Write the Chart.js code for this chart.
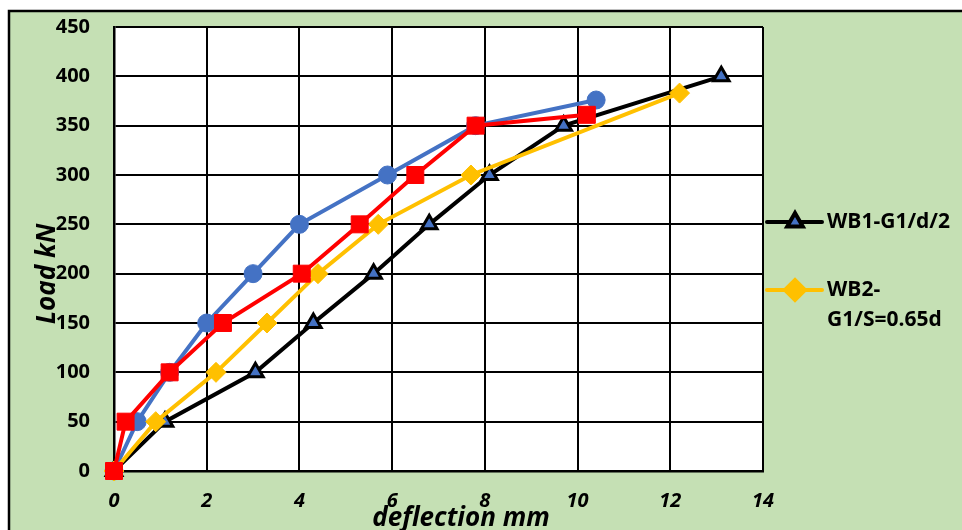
<!DOCTYPE html>
<html>
<head>
<meta charset="utf-8">
<script src="https://cdn.jsdelivr.net/npm/chart.js@4/dist/chart.umd.min.js"></script>
<style>
  html, body { margin: 0; padding: 0; background: #fff; }
  #wrap { width: 962px; height: 530px; }
</style>
</head>
<body>
<div id="wrap"><canvas id="chart"></canvas></div>
<script>
// deflection (mm) / load (kN)
const deflWB1 = [0, 1.1, 3.05, 4.3, 5.6, 6.8, 8.1, 9.7, 13.1];
const loadWB1 = [0, 50, 100, 150, 200, 250, 300, 350, 400];
const deflWB2 = [0, 0.9, 2.2, 3.3, 4.4, 5.7, 7.7, 12.2];
const loadWB2 = [0, 50, 100, 150, 200, 250, 300, 383];
const deflBlue = [0, 0.5, 1.2, 2.0, 3.0, 4.0, 5.9, 7.8, 10.4];
const loadBlue = [0, 50, 100, 150, 200, 250, 300, 350, 376];
const deflRed = [0, 0.25, 1.2, 2.35, 4.05, 5.3, 6.5, 7.8, 10.2];
const loadRed = [0, 50, 100, 150, 200, 250, 300, 350, 361];

const legendWB1 = ['WB1-G1/d/2'];
const legendWB2 = ['WB2-', 'G1/S=0.65d'];

const xTicks = [0, 2, 4, 6, 8, 10, 12, 14];
const yTicks = [0, 50, 100, 150, 200, 250, 300, 350, 400, 450];

const FONT = '"Open Sans", Lato, sans-serif';

function pts(xs, ys) {
  return xs.map((x, i) => ({ x: x, y: ys[i] }));
}

// green frame, white plot area
const frame = {
  id: 'frame',
  beforeDraw(chart) {
    const { ctx, chartArea: a } = chart;
    ctx.save();
    ctx.fillStyle = '#fff';
    ctx.fillRect(0, 0, chart.width, chart.height);
    ctx.fillStyle = '#C5E0B4';
    ctx.fillRect(9, 11, chart.width, chart.height);
    ctx.strokeStyle = '#000';
    ctx.lineWidth = 2.5;
    ctx.strokeRect(9, 11, chart.width + 10, chart.height + 10);
    ctx.fillStyle = '#fff';
    ctx.fillRect(a.left, a.top, a.right - a.left, a.bottom - a.top);
    ctx.restore();
  }
};

// axis titles + right-hand legend
const extras = {
  id: 'extras',
  afterDraw(chart) {
    const { ctx } = chart;
    ctx.save();
    ctx.fillStyle = '#000';
    ctx.font = 'italic bold 26px ' + FONT;
    ctx.textAlign = 'center';
    ctx.textBaseline = 'alphabetic';
    ctx.fillText('deflection mm', 461, 526);

    ctx.translate(55, 274);
    ctx.rotate(-Math.PI / 2);
    ctx.font = 'italic bold 26px ' + FONT;
    ctx.fillText('Load kN', 0, 0);
    ctx.restore();

    const byLabel = l => chart.data.datasets.find(d => d.label === l.join(''));
    const items = [
      { ds: byLabel(legendWB1), lines: legendWB1, y: 222 },
      { ds: byLabel(legendWB2), lines: legendWB2, y: 290 }
    ];
    items.forEach(it => {
      ctx.save();
      ctx.strokeStyle = it.ds.borderColor;
      ctx.lineWidth = 4;
      ctx.lineCap = 'round';
      ctx.beginPath();
      ctx.moveTo(767, it.y);
      ctx.lineTo(822, it.y);
      ctx.stroke();
      ctx.fillStyle = it.ds.pointBackgroundColor;
      ctx.strokeStyle = it.ds.pointBorderColor;
      Chart.helpers.drawPoint(ctx, {
        pointStyle: it.ds.pointStyle,
        radius: it.ds.pointRadius,
        rotation: 0,
        borderWidth: it.ds.pointBorderWidth
      }, 795, it.y);
      ctx.fillStyle = '#000';
      ctx.font = 'bold 21px ' + FONT;
      ctx.textAlign = 'left';
      ctx.textBaseline = 'middle';
      it.lines.forEach((t, i) => ctx.fillText(t, 827, it.y + i * 30));
      ctx.restore();
    });
  }
};

new Chart(document.getElementById('chart'), {
  type: 'scatter',
  data: {
    // first dataset is drawn on top
    datasets: [
      {
        label: 'WB-red',
        data: pts(deflRed, loadRed),
        showLine: true,
        clip: false,
        borderColor: '#FF0000',
        backgroundColor: '#FF0000',
        borderWidth: 4,
        pointStyle: 'rect',
        pointRadius: 12,
        pointBackgroundColor: '#FF0000',
        pointBorderColor: '#FF0000',
        pointBorderWidth: 1
      },
      {
        label: legendWB2.join(''),
        data: pts(deflWB2, loadWB2),
        showLine: true,
        clip: false,
        borderColor: '#FFC000',
        backgroundColor: '#FFC000',
        borderWidth: 4,
        pointStyle: 'rectRot',
        pointRadius: 10,
        pointBackgroundColor: '#FFC000',
        pointBorderColor: '#FFC000',
        pointBorderWidth: 1
      },
      {
        label: 'WB-blue',
        data: pts(deflBlue, loadBlue),
        showLine: true,
        clip: false,
        borderColor: '#4472C4',
        backgroundColor: '#4472C4',
        borderWidth: 4,
        pointStyle: 'circle',
        pointRadius: 9,
        pointBackgroundColor: '#4472C4',
        pointBorderColor: '#4472C4',
        pointBorderWidth: 1
      },
      {
        label: legendWB1.join(''),
        data: pts(deflWB1, loadWB1),
        showLine: true,
        clip: false,
        borderColor: '#000000',
        backgroundColor: '#000000',
        borderWidth: 4,
        pointStyle: 'triangle',
        pointRadius: 9,
        pointBackgroundColor: '#4472C4',
        pointBorderColor: '#000000',
        pointBorderWidth: 3
      }
    ]
  },
  options: {
    responsive: true,
    maintainAspectRatio: false,
    animation: false,
    layout: { padding: { left: 30, right: 199, top: 27, bottom: 0 } },
    plugins: {
      legend: { display: false },
      tooltip: { enabled: false }
    },
    scales: {
      x: {
        type: 'linear',
        min: 0,
        max: 14,
        afterBuildTicks: s => { s.ticks = xTicks.map(v => ({ value: v })); },
        afterFit: s => { s.height = 59; s.paddingLeft = 0; s.paddingRight = 0; },
        ticks: {
          color: '#000',
          padding: 18,
          font: { family: FONT, size: 20, weight: 'bold', style: 'italic' }
        },
        grid: { color: '#000', lineWidth: 2, drawTicks: false },
        border: { color: '#000', width: 2.5 }
      },
      y: {
        min: 0,
        max: 450,
        afterBuildTicks: s => { s.ticks = yTicks.map(v => ({ value: v })); },
        afterFit: s => { s.width = 84; s.paddingTop = 0; s.paddingBottom = 0; },
        ticks: {
          color: '#000',
          padding: 24,
          font: { family: FONT, size: 20, weight: 'bold' }
        },
        grid: { color: '#000', lineWidth: 2, drawTicks: false },
        border: { color: '#000', width: 2.5 }
      }
    }
  },
  plugins: [frame, extras]
});
</script>
</body>
</html>
